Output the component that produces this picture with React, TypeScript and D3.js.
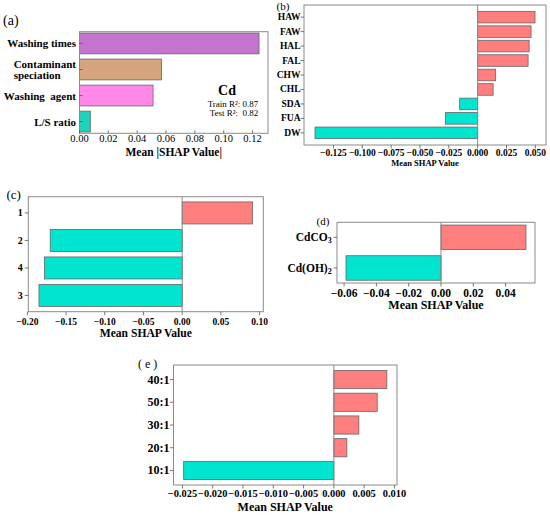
import * as d3 from 'd3';

const SERIF = '"Liberation Serif", "Times New Roman", serif';
const POS = '#FF7F7F';
const NEG = '#00E5D0';
const FRAME = '#8a8a8a';

type Label = string | [string, string];

// (a) feature importance, Cd
const aFeatures: Label[] = ['Washing times', 'Contaminant\nspeciation', 'Washing  agent', 'L/S ratio'];
const aValues = [0.1245, 0.0569, 0.051, 0.0075];
const aColors = ['#C474CC', '#D4A47C', '#FF88E8', '#1DD3B8'];
const aTicks = [0, 0.02, 0.04, 0.06, 0.08, 0.1, 0.12];

// (b) washing agents
const bFeatures: Label[] = ['HAW', 'FAW', 'HAL', 'FAL', 'CHW', 'CHL', 'SDA', 'FUA', 'DW'];
const bValues = [0.0497, 0.0463, 0.0446, 0.0437, 0.0156, 0.0134, -0.0156, -0.028, -0.141];
const bTicks = [-0.125, -0.1, -0.075, -0.05, -0.025, 0, 0.025, 0.05];

// (c) washing times
const cFeatures: Label[] = ['1', '2', '4', '3'];
const cValues = [0.091, -0.1705, -0.178, -0.185];
const cTicks = [-0.2, -0.15, -0.1, -0.05, 0, 0.05, 0.1];

// (d) contaminant speciation
const dFeatures: Label[] = [['CdCO', '3'], ['Cd(OH)', '2']];
const dValues = [0.0526, -0.0588];
const dTicks = [-0.06, -0.04, -0.02, 0, 0.02, 0.04];

// (e) L/S ratio
const eFeatures: Label[] = ['40:1', '50:1', '30:1', '20:1', '10:1'];
const eValues = [0.00875, 0.00716, 0.00413, 0.00215, -0.0248];
const eTicks = [-0.025, -0.02, -0.015, -0.01, -0.005, 0, 0.005, 0.01];

const fmt = (digits: number) => (v: number) => {
  const s = Math.abs(v).toFixed(digits);
  return v < 0 ? '\u2212' + s : s;
};

let ctx: CanvasRenderingContext2D | null = null;
const measure = (text: string, font: string) => {
  if (!ctx) ctx = document.createElement('canvas').getContext('2d');
  if (!ctx) return text.length * 5;
  ctx.font = font;
  return ctx.measureText(text).width;
};

interface PanelProps {
  labels: Label[];
  values: number[];
  colors: string[];
  ticks: number[];
  format: (v: number) => string;
  frame: [number, number, number, number];
  padOuter?: number;
  inward?: boolean;
  zeroLine?: boolean;
  tickFont: number;
  tickBold?: boolean;
  tickY: number;
  labelFont: number;
  labelGap: number;
  title: string;
  titleFont: number;
  titleY: number;
  tag: string;
  tagX: number;
  tagY: number;
  tagFont: number;
}

const BarPanel = (p: PanelProps) => {
  const [x0, y0, x1, y1] = p.frame;
  const lo = Math.min(0, d3.min(p.values) as number);
  const hi = Math.max(0, d3.max(p.values) as number);
  const span = hi - lo;
  const x = d3.scaleLinear()
    .domain([lo < 0 ? lo - 0.05 * span : 0, hi > 0 ? hi + 0.05 * span : 0])
    .range([x0, x1]);
  const n = p.labels.length;
  const y = d3.scaleBand<number>()
    .domain(d3.range(n))
    .range([y0, y1])
    .paddingInner(0.2)
    .paddingOuter(p.padOuter ?? 0.05 * (n - 0.2));
  const tl = p.inward ? -3 : 3.5;
  const labelRight = x0 - p.labelGap;
  const labelFontStr = `bold ${p.labelFont}px ${SERIF}`;

  return (
    <g fontFamily={SERIF}>
      <text x={p.tagX} y={p.tagY} fontSize={p.tagFont} dominantBaseline="central" style={{ whiteSpace: 'pre' }}>
        {p.tag}
      </text>
      {p.values.map((v, i) => (
        <rect
          key={i}
          x={Math.min(x(0), x(v))}
          y={y(i)}
          width={Math.abs(x(v) - x(0))}
          height={y.bandwidth()}
          fill={p.colors[i] ?? (v >= 0 ? POS : NEG)}
          stroke="#666"
          strokeWidth={0.8}
        />
      ))}
      {p.zeroLine && <line x1={x(0)} x2={x(0)} y1={y0} y2={y1} stroke={FRAME} strokeWidth={1} />}
      <rect x={x0} y={y0} width={x1 - x0} height={y1 - y0} fill="none" stroke={FRAME} strokeWidth={1} />
      {p.ticks.map((t) => (
        <g key={t}>
          <line x1={x(t)} x2={x(t)} y1={y1} y2={y1 + tl} stroke="#555" strokeWidth={0.8} />
          <text
            x={x(t)}
            y={p.tickY}
            fontSize={p.tickFont}
            fontWeight={p.tickBold ? 'bold' : 'normal'}
            textAnchor="middle"
            dominantBaseline="central"
          >
            {p.format(t)}
          </text>
        </g>
      ))}
      {p.labels.map((lab, i) => {
        const cy = (y(i) as number) + y.bandwidth() / 2;
        const tick = <line x1={x0} x2={x0 - tl} y1={cy} y2={cy} stroke="#555" strokeWidth={0.8} />;
        if (Array.isArray(lab)) {
          return (
            <g key={i}>
              {tick}
              <text x={labelRight} y={cy} fontSize={p.labelFont} fontWeight="bold" textAnchor="end" dominantBaseline="central">
                {lab[0]}
                <tspan fontSize={p.labelFont * 0.7} dy={3}>{lab[1]}</tspan>
              </text>
            </g>
          );
        }
        const lines = lab.split('\n');
        if (lines.length > 1) {
          const w = Math.max(...lines.map((l) => measure(l, labelFontStr)));
          const lh = p.labelFont * 0.95;
          return (
            <g key={i}>
              {tick}
              {lines.map((l, k) => (
                <text
                  key={k}
                  x={labelRight - w}
                  y={cy + (k - (lines.length - 1) / 2) * lh}
                  fontSize={p.labelFont}
                  fontWeight="bold"
                  dominantBaseline="central"
                >
                  {l}
                </text>
              ))}
            </g>
          );
        }
        return (
          <g key={i}>
            {tick}
            <text
              x={labelRight}
              y={cy}
              fontSize={p.labelFont}
              fontWeight="bold"
              textAnchor="end"
              dominantBaseline="central"
              style={{ whiteSpace: 'pre' }}
            >
              {lab}
            </text>
          </g>
        );
      })}
      <text
        x={(x0 + x1) / 2}
        y={p.titleY}
        fontSize={p.titleFont}
        fontWeight="bold"
        textAnchor="middle"
        dominantBaseline="central"
      >
        {p.title}
      </text>
    </g>
  );
};

export default function App() {
  return (
    <svg width={550} height={515} style={{ position: 'absolute', left: 0, top: 0, background: '#fff' }}>
      <BarPanel
        labels={aFeatures}
        values={aValues}
        colors={aColors}
        ticks={aTicks}
        format={fmt(2)}
        frame={[79.5, 31.7, 268, 133.3]}
        padOuter={0.05}
        inward
        tickFont={10.5}
        tickY={138}
        labelFont={11}
        labelGap={3.5}
        title="Mean |SHAP Value|"
        titleFont={11.5}
        titleY={151.5}
        tag="(a)"
        tagX={3}
        tagY={20}
        tagFont={14}
      />
      <g fontFamily={SERIF}>
        <text x={227} y={90} fontSize={14} fontWeight="bold" textAnchor="middle" dominantBaseline="central">Cd</text>
        <text x={258.3} y={104} fontSize={9} textAnchor="end" dominantBaseline="central" style={{ whiteSpace: 'pre' }}>
          Train R²: 0.87
        </text>
        <text x={258.3} y={113.3} fontSize={9} textAnchor="end" dominantBaseline="central" style={{ whiteSpace: 'pre' }}>
          Test R²:  0.82
        </text>
      </g>
      <BarPanel
        labels={bFeatures}
        values={bValues}
        colors={[]}
        ticks={bTicks}
        format={fmt(3)}
        frame={[304, 5, 546, 145]}
        zeroLine
        tickFont={9.5}
        tickBold
        tickY={153}
        labelFont={9.5}
        labelGap={3.5}
        title="Mean SHAP Value"
        titleFont={8.5}
        titleY={163}
        tag="(b)"
        tagX={276.5}
        tagY={6}
        tagFont={11}
      />
      <BarPanel
        labels={cFeatures}
        values={cValues}
        colors={[]}
        ticks={cTicks}
        format={fmt(2)}
        frame={[28.3, 196.7, 263.3, 311.7]}
        zeroLine
        tickFont={9.5}
        tickBold
        tickY={321.7}
        labelFont={10}
        labelGap={5.5}
        title="Mean SHAP Value"
        titleFont={11.6}
        titleY={333.3}
        tag="(c)"
        tagX={6.5}
        tagY={194}
        tagFont={13}
      />
      <BarPanel
        labels={dFeatures}
        values={dValues}
        colors={[]}
        ticks={dTicks}
        format={fmt(2)}
        frame={[337, 222.3, 535, 283]}
        zeroLine
        tickFont={11.5}
        tickBold
        tickY={292.5}
        labelFont={11.5}
        labelGap={5.3}
        title="Mean SHAP Value"
        titleFont={12}
        titleY={305}
        tag="(d)"
        tagX={316.5}
        tagY={221}
        tagFont={11}
      />
      <BarPanel
        labels={eFeatures}
        values={eValues}
        colors={[]}
        ticks={eTicks}
        format={fmt(3)}
        frame={[173.5, 365, 397, 485]}
        zeroLine
        tickFont={10.4}
        tickBold
        tickY={493.5}
        labelFont={12}
        labelGap={4}
        title="Mean SHAP Value"
        titleFont={12}
        titleY={506.7}
        tag="( e )"
        tagX={138}
        tagY={364}
        tagFont={12}
      />
    </svg>
  );
}
